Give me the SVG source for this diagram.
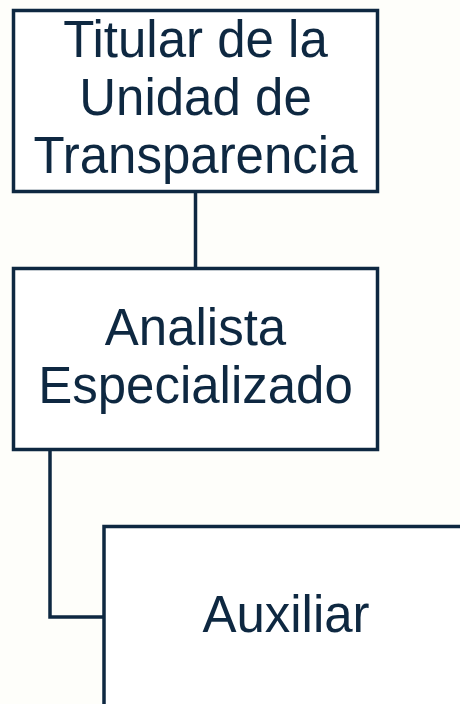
<svg xmlns="http://www.w3.org/2000/svg" width="460" height="704" viewBox="0 0 460 704">
<style>
.box{fill:#ffffff;stroke:#0e2841;stroke-width:3.5}
.lbl{font-family:"Liberation Sans",Arial,sans-serif;font-size:51px;fill:#0e2841;text-anchor:middle}
.conn{fill:none;stroke:#0e2841;stroke-width:3.5}
</style>
<rect x="0" y="0" width="460" height="704" fill="#fefefa"/>
<g id="connectors">
<path class="conn" d="M195.5 191.5 V268"/>
<path class="conn" d="M50 449.5 V617 H104"/>
</g>
<g id="node-titular">
<rect class="box" x="13.5" y="10.5" width="364" height="181"/>
<text class="lbl" x="195.5" y="57">Titular de la</text>
<text class="lbl" x="195.5" y="115">Unidad de</text>
<text class="lbl" x="195.5" y="173">Transparencia</text>
</g>
<g id="node-analista">
<rect class="box" x="13.5" y="268.5" width="364" height="181"/>
<text class="lbl" x="195.5" y="345">Analista</text>
<text class="lbl" x="195.5" y="403">Especializado</text>
</g>
<g id="node-auxiliar">
<rect class="box" x="104" y="526.5" width="364" height="181"/>
<text class="lbl" x="286" y="632">Auxiliar</text>
</g>
</svg>
